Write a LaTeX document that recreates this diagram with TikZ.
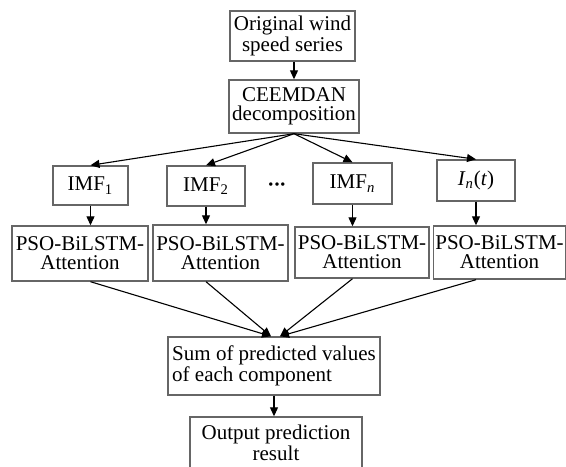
\documentclass[tikz,border=0pt]{standalone}
\usepackage{fontspec}
\setmainfont{Liberation Serif}
\usetikzlibrary{arrows.meta, positioning, calc}

\begin{document}
\begin{tikzpicture}[
    x=0.5pt, y=-0.5pt,
    block/.style={rectangle, draw=black!60, line width=0.7pt, inner sep=1pt, align=center, font=\fontsize{10.5}{9.5}\selectfont},
    flow/.style={-{Triangle[length=4.5pt, width=4pt]}, line width=0.55pt}
]
\useasboundingbox (0,0) rectangle (566,466);

% Input
\node[block, minimum width=62.5pt, minimum height=25pt] (orig) at (292.5, 36) {Original wind\\speed series};

% Decomposition
\node[block, minimum width=65pt, minimum height=26.5pt] (ceemdan) at (294, 106.5) {CEEMDAN\\decomposition};

% Components
\node[block, minimum width=37.5pt, minimum height=19.5pt] (imf1) at (90.5, 185.5) {IMF\textsubscript{1}};
\node[block, minimum width=39pt, minimum height=20pt] (imf2) at (206, 186) {IMF\textsubscript{2}};
\node[block, draw=none] (etc) at (277, 187) {\textbf{\textperiodcentered\kern-0.5pt\textperiodcentered\kern-0.5pt\textperiodcentered}};
\node[block, minimum width=39.5pt, minimum height=20.5pt] (imfn) at (352.5, 183.5) {IMF\textsubscript{\textit{n}}};
\node[block, minimum width=39pt, minimum height=20.5pt] (res) at (476, 180.5) {\textit{I}\textsubscript{\textit{n}}(\textit{t})};

% Predictors
\node[block, minimum width=68pt, minimum height=27.5pt] (pso1) at (80, 253.5) {PSO-BiLSTM-\\Attention};
\node[block, minimum width=67.5pt, minimum height=28pt] (pso2) at (220.5, 253) {PSO-BiLSTM-\\Attention};
\node[block, minimum width=67pt, minimum height=25.5pt] (pso3) at (362, 252.5) {PSO-BiLSTM-\\Attention};
\node[block, minimum width=65.5pt, minimum height=26.5pt] (pso4) at (499.5, 252.5) {PSO-BiLSTM-\\Attention};

% Reconstruction
\node[block, minimum width=106pt, minimum height=29pt, align=left] (sum) at (274, 366) {Sum of predicted values\\of each component};
\node[block, minimum width=86pt, minimum height=26pt] (out) at (276, 443) {Output prediction\\result};

% Connections
\draw[flow] (ceemdan.north |- orig.south) -- (ceemdan.north);
\draw[flow] (ceemdan.south) -- (imf1.north);
\draw[flow] (ceemdan.south) -- (imf2.north);
\draw[flow] (ceemdan.south) -- (imfn.north);
\draw[flow] (ceemdan.south) -- (res.north);
\draw[flow] (imf1.south) -- (imf1.south |- pso1.north);
\draw[flow] (imf2.south) -- (imf2.south |- pso2.north);
\draw[flow] (imfn.south) -- (imfn.south |- pso3.north);
\draw[flow] (res.south) -- (res.south |- pso4.north);
\draw[flow] (imf1.south |- pso1.south) -- ([xshift=-1.5pt]sum.north);
\draw[flow] (imf2.south |- pso2.south) -- ([xshift=-1.5pt]sum.north);
\draw[flow] (imfn.south |- pso3.south) -- ([xshift=3pt]sum.north);
\draw[flow] (res.south |- pso4.south) -- ([xshift=3pt]sum.north);
\draw[flow] (sum.south) -- (sum.south |- out.north);

\end{tikzpicture}
\end{document}
